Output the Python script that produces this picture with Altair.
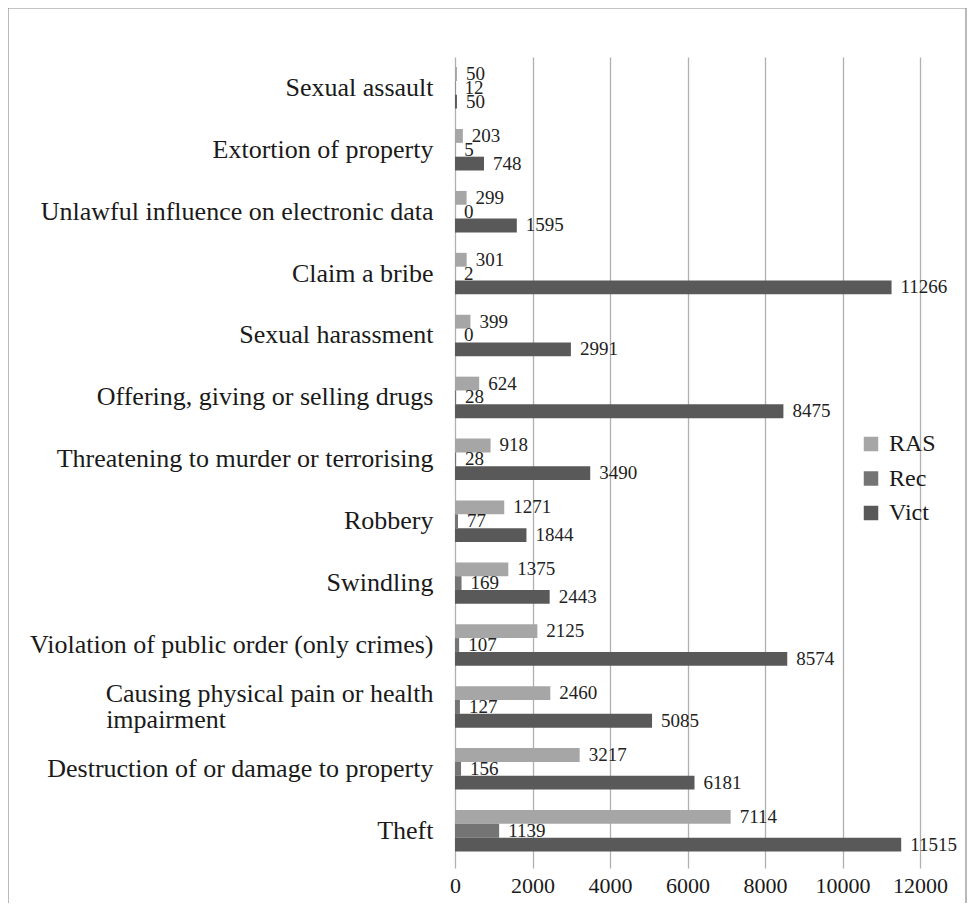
import altair as alt
import pandas as pd

categories = [
    "Sexual assault",
    "Extortion of property",
    "Unlawful influence on electronic data",
    "Claim a bribe",
    "Sexual harassment",
    "Offering, giving or selling drugs",
    "Threatening to murder or terrorising",
    "Robbery",
    "Swindling",
    "Violation of public order (only crimes)",
    "Causing physical pain or health impairment",
    "Destruction of or damage to property",
    "Theft",
]
series = ["RAS", "Rec", "Vict"]
ras = [50, 203, 299, 301, 399, 624, 918, 1271, 1375, 2125, 2460, 3217, 7114]
rec = [12, 5, 0, 2, 0, 28, 28, 77, 169, 107, 127, 156, 1139]
vict = [50, 748, 1595, 11266, 2991, 8475, 3490, 1844, 2443, 8574, 5085, 6181, 11515]
x_ticks = [0, 2000, 4000, 6000, 8000, 10000, 12000]
colors = ["#a6a6a6", "#747474", "#595959"]

rows = []
for i, c in enumerate(categories):
    for s, vals in zip(series, [ras, rec, vict]):
        rows.append({"category": c, "series": s, "value": vals[i]})
df = pd.DataFrame(rows)

SERIF = "Liberation Serif"
LONG = "Causing physical pain or health impairment"
pad = "\u2007" * 14 + "\u00a0" + "\u2800"
label_expr = (
    "datum.label == '" + LONG + "' ? "
    "['Causing physical pain or health', 'impairment" + pad + "'] : datum.label"
)

y_enc = alt.Y(
    "category:N",
    sort=categories,
    scale=alt.Scale(paddingInner=0.33, paddingOuter=0.215, align=0.38),
    axis=alt.Axis(
        title=None, domain=False, ticks=False, labelPadding=22,
        labelFont=SERIF, labelFontSize=26, labelColor="#1a1a1a",
        labelExpr=label_expr, labelLimit=700, labelLineHeight=26,
        labelOffset={"condition": {"test": "datum.value == '" + LONG + "'", "value": -13}, "value": 0},
    ),
)
yoff = alt.YOffset("series:N", sort=series, scale=alt.Scale(domain=series, paddingInner=0, paddingOuter=0))
x_enc = alt.X(
    "value:Q",
    scale=alt.Scale(domain=[0, 12000], nice=False),
    axis=alt.Axis(
        title=None, values=x_ticks, format="d", domain=False, ticks=False, labelPadding=7,
        labelFont=SERIF, labelFontSize=22, labelColor="#1a1a1a",
        grid=True, gridColor="#b0b0b0", gridWidth=1.3, labelFlush=False,
    ),
)

bars = alt.Chart(df).mark_bar().encode(
    y=y_enc,
    yOffset=yoff,
    x=x_enc,
    color=alt.Color(
        "series:N",
        scale=alt.Scale(domain=series, range=colors),
        legend=alt.Legend(
            title=None, orient="none", legendX=404, legendY=375,
            symbolType="square", symbolSize=210, symbolStrokeWidth=0,
            labelFont=SERIF, labelFontSize=24, labelColor="#1a1a1a",
            rowPadding=10.5, labelOffset=6,
        ),
    ),
)

labels = alt.Chart(df).mark_text(
    align="left", baseline="middle", dx=9, font=SERIF, fontSize=19, color="#222222"
).encode(
    y=alt.Y("category:N", sort=categories),
    yOffset=alt.YOffset("series:N", sort=series),
    x="value:Q",
    text="value:Q",
)

frame = alt.Chart(pd.DataFrame({"a": [0]})).mark_rect(
    fill=None, stroke="#8c8c8c", strokeWidth=1.2
).encode(
    x=alt.value(-447), x2=alt.value(511), y=alt.value(-49), y2=alt.value(880)
)

chart = alt.layer(frame, bars, labels).properties(
    width=465, height=811,
    autosize=alt.AutoSizeParams(type="none"),
    padding={"left": 447, "top": 49, "right": 47, "bottom": 35},
).configure_view(stroke=None)

chart.save("out.html", embed_options={"renderer": "svg", "actions": False})
